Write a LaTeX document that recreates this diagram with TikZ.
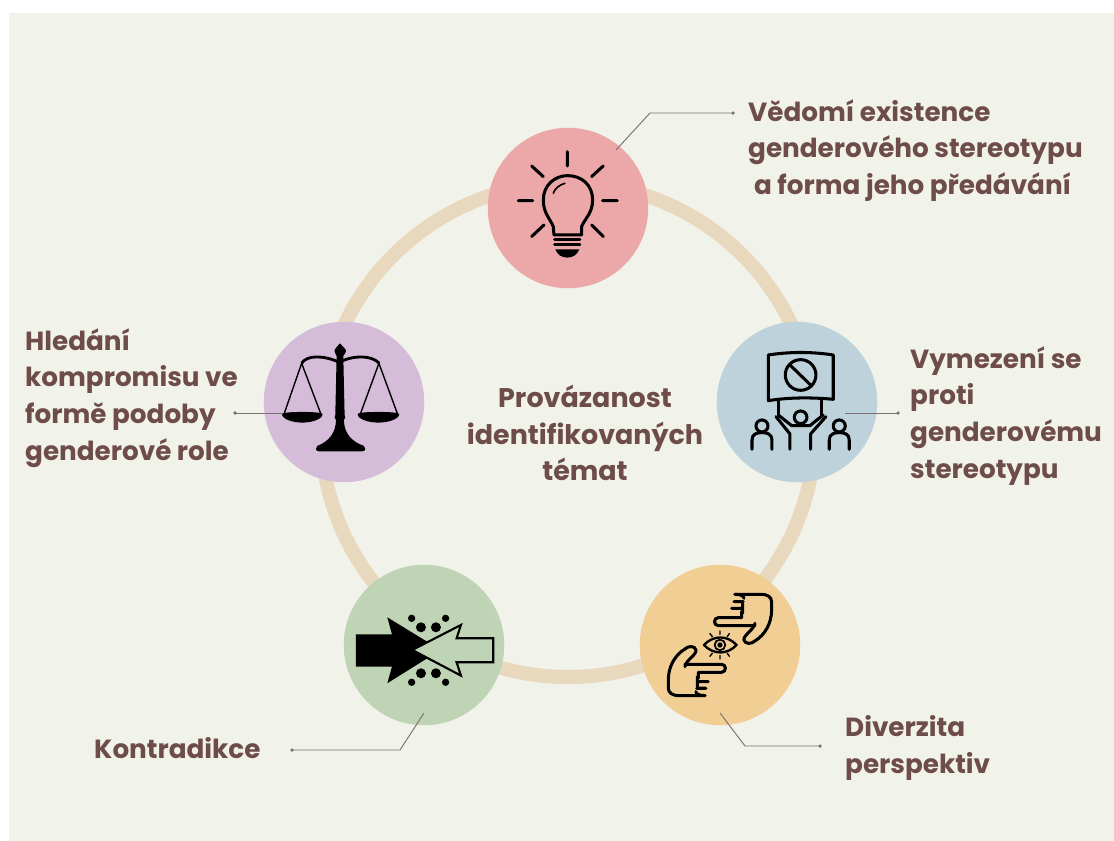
\documentclass[tikz,border=0pt]{standalone}
\usepackage{fontspec}
\setmainfont{Poppins}[BoldFont={Poppins Bold}]
\definecolor{panel}{HTML}{F1F2EA}
\definecolor{ringc}{HTML}{E8D9BE}
\definecolor{txt}{HTML}{6E4C49}
\definecolor{conn}{HTML}{7D7070}
\definecolor{cpink}{HTML}{ECA8A8}
\definecolor{cblue}{HTML}{BDD2DA}
\definecolor{cpurple}{HTML}{D5BDD9}
\definecolor{cgreen}{HTML}{BFD3B5}
\definecolor{corange}{HTML}{F1CF94}
\tikzset{
  disc/.style={circle,minimum size=137pt,inner sep=0pt,fill=#1},
  lbl/.style={anchor=north west,align=left,text=txt,inner sep=0pt,font=\fontsize{22.4}{31.5}\selectfont\bfseries},
  ctr/.style={align=center,text=txt,inner sep=0pt,font=\fontsize{23}{31}\selectfont\bfseries},
  lead/.style={draw=conn,line width=.8pt},
  tipdot/.style={circle,fill=conn,inner sep=0pt,minimum size=3pt},
  ico/.style={draw=black,line width=2.6pt,line cap=round,line join=round},
  zoomed/.style={x=.01cm,y=-.01cm}
}
\begin{document}
\begin{tikzpicture}[x=.03cm,y=-.03cm]
\useasboundingbox (0,0) rectangle (1114,841);
\fill[white] (0,0) rectangle (1114,841);
\fill[panel] (9,13) rectangle (1114,841);
\draw[ringc,line width=12pt] (568,430) circle (247);
\node[disc=cpink] (bulb) at (568,208) {};
\node[disc=cblue] (protest) at (797,402) {};
\node[disc=cpurple] (scales) at (344,402) {};
\node[disc=cgreen] (clash) at (424,645) {};
\node[disc=corange] (hands) at (720,645) {};

% bulb
\begin{scope}[shift={(470,110)},zoomed]
\draw[ico] (252,375) -- (250,350) .. controls (240,325) and (220,310) .. (220,270) .. controls (220,225) and (255,197) .. (293,197) .. controls (335,197) and (368,225) .. (368,270) .. controls (368,310) and (345,325) .. (335,350) -- (335,375) -- cycle;
\draw[ico,line width=1.4pt] (250,250) .. controls (255,235) and (268,225) .. (285,220);
\draw[ico] (254,390) -- (330,390) (254,405) -- (330,405);
\fill[black] (256,418) -- (328,418) .. controls (322,435) and (308,443) .. (292,443) .. controls (276,443) and (262,435) .. (256,418) -- cycle;
\draw[ico] (292,125) -- (292,168) (185,168) -- (220,200) (400,168) -- (365,200) (145,272) -- (188,272) (398,272) -- (442,272) (222,345) -- (185,380) (365,345) -- (400,380);
\end{scope}

% protest
\begin{scope}[shift={(700,310)},zoomed]
\draw[ico] (205,135) .. controls (270,125) and (335,125) .. (400,135) -- (400,268) .. controls (335,262) and (270,262) .. (205,272) -- cycle;
\draw[ico] (302,195) circle (46);
\draw[ico] (270,165) -- (335,228);
\draw[ico] (235,272) -- (235,318) (365,272) -- (365,318);
\draw[ico] (302,322) circle (19);
\draw[ico] (228,320) -- (270,372) -- (270,418) (378,320) -- (332,372) -- (332,418);
\draw[ico] (235,315) -- (275,347) -- (330,347) -- (370,315);
\foreach \c in {186,418}{
\draw[ico] (\c,348) circle (18);
\draw[ico] (\c-30,418) -- (\c-30,390) .. controls (\c-30,372) and (\c-15,368) .. (\c,368) .. controls (\c+15,368) and (\c+30,372) .. (\c+30,390) -- (\c+30,418);
}
\end{scope}

% scales
\begin{scope}[shift={(250,310)},zoomed]
\fill[black] (270,100) .. controls (260,112) and (252,118) .. (254,125) .. controls (256,132) and (259,135) .. (260,138) -- (256,316) -- (254,322) -- (258,330) .. controls (258,370) and (235,395) .. (202,408) .. controls (196,412) and (196,424) .. (206,424) -- (338,424) .. controls (348,424) and (348,412) .. (342,408) .. controls (305,395) and (282,370) .. (282,330) -- (286,322) -- (284,316) -- (280,138) .. controls (281,135) and (286,132) .. (288,125) .. controls (290,118) and (280,112) .. (270,100) -- cycle;
\draw[black,line width=2.4pt] (155,160) .. controls (170,135) and (220,135) .. (268,157) .. controls (310,135) and (365,135) .. (388,160);
\draw[black,line width=1.2pt] (103,310) -- (155,160) -- (212,310) (332,310) -- (387,160) -- (442,310);
\fill[black] (96,312) .. controls (96,304) and (218,304) .. (218,312) .. controls (218,328) and (185,338) .. (157,338) .. controls (129,338) and (96,328) .. (96,312) -- cycle;
\fill[black] (323,312) .. controls (323,304) and (448,304) .. (448,312) .. controls (448,328) and (414,338) .. (385,338) .. controls (356,338) and (323,328) .. (323,312) -- cycle;
\end{scope}

% clash
\begin{scope}[shift={(330,555)},zoomed]
\fill[black] (78,238) -- (186,238) -- (172,187) -- (332,285) -- (172,385) -- (186,335) -- (78,335) -- cycle;
\draw[ico,fill=cgreen,line width=1.8pt,line join=miter] (490,250) -- (380,250) -- (393,210) -- (247,285) -- (393,362) -- (380,322) -- (490,322) -- cycle;
\foreach \x/\y/\r in {245/190/11,347/190/11,273/217/15,318/217/15,273/355/15,318/355/15,245/382/11,347/382/11}
  \fill[black] (\x,\y) circle (\r);
\end{scope}

% hands
\begin{scope}[shift={(630,555)},zoomed]
\foreach \a in {0,180}{
\begin{scope}[rotate around={\a:(270,270)}]
\draw[ico] (375,205) .. controls (372,225) and (340,240) .. (342,255) .. controls (345,268) and (365,268) .. (375,258) .. controls (405,240) and (425,205) .. (425,165) -- (425,140) .. controls (425,125) and (410,118) .. (395,118) -- (315,118);
\draw[ico] (315,118) .. controls (335,118) and (342,124) .. (342,130) (312,140) -- (340,140) (305,160) -- (338,160) (338,145) -- (338,175) (300,188) -- (265,188) .. controls (250,188) and (250,212) .. (265,212) -- (375,212) (300,188) -- (335,188) -- (335,170);
\end{scope}}
\draw[ico,line width=2pt] (222,270) .. controls (250,240) and (292,240) .. (320,270) .. controls (292,300) and (250,300) .. (222,270) -- cycle;
\draw[ico,line width=1.5pt] (270,270) circle (16);
\fill[black] (270,270) circle (8);
\draw[ico,line width=1.2pt] (240,236) -- (247,245) (270,228) -- (270,238) (298,236) -- (292,245) (240,304) -- (247,295) (270,312) -- (270,302) (298,304) -- (292,295);
\end{scope}

% text
\node[lbl] (t1) at (748,99) {Vědomí existence\\genderového stereotypu\\\hspace*{5pt}a forma jeho předávání};
\node[lbl] (t2) at (910,346) {Vymezení se\\proti\\genderovému\\stereotypu};
\node[lbl] (t3) at (845,715) {Diverzita\\perspektiv};
\node[lbl] (t4) at (94,737) {Kontradikce};
\node[lbl] (t5) at (25,328) {Hledání\\kompromisu ve\\formě podoby\\genderové role};
\node[ctr] (t6) at (585,433) {Provázanost\\identifikovaných\\témat};

% leaders
\coordinate (b1) at (616,150); \coordinate (b2) at (650,113); \coordinate (b3) at (733,113);
\coordinate (p1) at (845,413); \coordinate (p2) at (898,413);
\coordinate (s1) at (283,413); \coordinate (s2) at (235,413);
\coordinate (c1) at (424,713); \coordinate (c2) at (400,750); \coordinate (c3) at (292,750);
\coordinate (h1) at (720,713); \coordinate (h2) at (745,746); \coordinate (h3) at (820,746);
\draw[lead] (b1) -- (b2) -- (b3) node[tipdot] {};
\draw[lead] (p1) -- (p2) node[tipdot] {};
\draw[lead] (s1) -- (s2) node[tipdot] {};
\draw[lead] (c1) -- (c2) -- (c3) node[tipdot] {};
\draw[lead] (h1) -- (h2) -- (h3) node[tipdot] {};
\end{tikzpicture}
\end{document}
